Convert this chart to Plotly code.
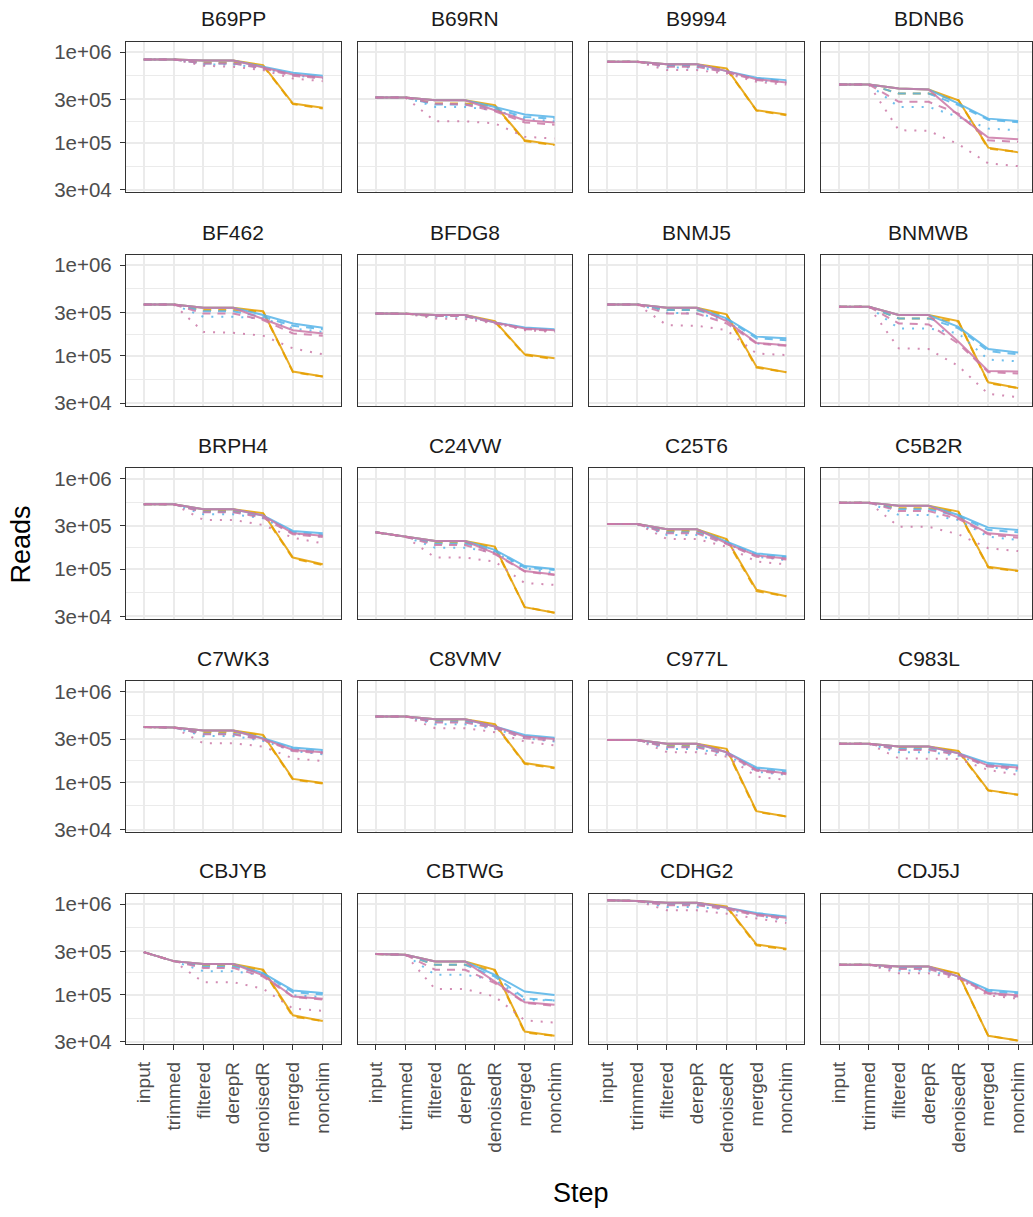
import plotly.graph_objects as go

# ---------------- data (reads, in thousands) ----------------
steps = ["input", "trimmed", "filtered", "derepR", "denoisedR", "merged", "nonchim"]
samples = ["B69PP", "B69RN", "B9994", "BDNB6",
           "BF462", "BFDG8", "BNMJ5", "BNMWB",
           "BRPH4", "C24VW", "C25T6", "C5B2R",
           "C7WK3", "C8VMV", "C977L", "C983L",
           "CBJYB", "CBTWG", "CDHG2", "CDJ5J"]

orange_solid = {
    "B69PP": [830, 830, 809, 809, 718, 270, 242],
    "B69RN": [315, 315, 294, 294, 259, 106, 95],
    "B9994": [782, 782, 736, 736, 659, 228, 204],
    "BDNB6": [438, 438, 396, 386, 294, 88, 78],
    "BF462": [370, 370, 340, 340, 311, 67, 59],
    "BFDG8": [294, 292, 282, 282, 242, 104, 94],
    "BNMJ5": [370, 370, 340, 340, 287, 76, 66],
    "BNMWB": [349, 349, 282, 282, 242, 51, 44],
    "BRPH4": [520, 520, 458, 458, 414, 134, 113],
    "C24VW": [255, 228, 204, 204, 177, 38, 33],
    "C25T6": [315, 315, 275, 275, 215, 59, 50],
    "C5B2R": [542, 542, 502, 502, 431, 106, 96],
    "C7WK3": [407, 403, 374, 374, 334, 109, 98],
    "C8VMV": [533, 533, 498, 498, 438, 163, 146],
    "C977L": [294, 294, 266, 266, 234, 48, 42],
    "C983L": [266, 266, 248, 248, 222, 82, 73],
    "CBJYB": [294, 234, 218, 218, 188, 59, 51],
    "CBTWG": [280, 275, 232, 232, 188, 39, 35],
    "CDHG2": [1098, 1080, 1034, 1034, 942, 358, 320],
    "CDJ5J": [213, 213, 204, 204, 170, 35, 31],
}
orange_dashed = {
    "B69PP": [830, 830, 769, 769, 706, 266, 238],
    "B69RN": [315, 315, 270, 270, 255, 104, 94],
    "B9994": [782, 782, 718, 718, 648, 226, 201],
    "BDNB6": [438, 438, 349, 349, 294, 86, 79],
    "BF462": [370, 370, 320, 320, 307, 66, 59],
    "BFDG8": [294, 292, 275, 275, 238, 102, 92],
    "BNMJ5": [370, 370, 320, 320, 282, 74, 66],
    "BNMWB": [349, 349, 259, 259, 238, 50, 44],
    "BRPH4": [520, 520, 438, 438, 407, 131, 111],
    "C24VW": [255, 228, 196, 196, 172, 38, 33],
    "C25T6": [315, 315, 264, 264, 209, 57, 50],
    "C5B2R": [542, 542, 470, 470, 424, 104, 95],
    "C7WK3": [407, 403, 358, 358, 328, 107, 97],
    "C8VMV": [533, 533, 482, 482, 431, 160, 143],
    "C977L": [294, 294, 255, 255, 228, 47, 42],
    "C983L": [266, 266, 242, 242, 218, 81, 73],
    "CBJYB": [294, 234, 209, 209, 184, 57, 51],
    "CBTWG": [280, 275, 213, 213, 184, 38, 35],
    "CDHG2": [1098, 1080, 1009, 1009, 926, 349, 315],
    "CDJ5J": [213, 213, 201, 201, 167, 35, 31],
}
blue_solid = {
    "B69PP": [830, 830, 809, 809, 688, 591, 547],
    "B69RN": [315, 315, 294, 294, 248, 204, 192],
    "B9994": [782, 782, 736, 736, 616, 520, 490],
    "BDNB6": [438, 438, 396, 386, 270, 184, 173],
    "BF462": [370, 370, 340, 340, 282, 228, 204],
    "BFDG8": [294, 292, 282, 282, 234, 206, 197],
    "BNMJ5": [370, 370, 340, 340, 259, 163, 156],
    "BNMWB": [349, 349, 282, 282, 209, 119, 109],
    "BRPH4": [520, 520, 458, 458, 390, 264, 248],
    "C24VW": [255, 228, 204, 204, 163, 108, 100],
    "C25T6": [315, 315, 275, 275, 201, 149, 139],
    "C5B2R": [542, 542, 502, 502, 396, 287, 270],
    "C7WK3": [407, 403, 374, 374, 307, 242, 228],
    "C8VMV": [533, 533, 498, 498, 414, 334, 311],
    "C977L": [294, 294, 266, 266, 215, 146, 135],
    "C983L": [266, 266, 248, 248, 209, 163, 153],
    "CBJYB": [294, 234, 218, 218, 172, 111, 104],
    "CBTWG": [280, 275, 232, 232, 165, 108, 99],
    "CDHG2": [1098, 1080, 1034, 1034, 911, 795, 730],
    "CDJ5J": [213, 213, 204, 204, 158, 113, 106],
}
blue_dashed = {
    "B69PP": [830, 830, 749, 749, 671, 566, 533],
    "B69RN": [315, 315, 264, 264, 238, 192, 184],
    "B9994": [782, 782, 706, 706, 606, 511, 477],
    "BDNB6": [438, 438, 349, 349, 259, 179, 168],
    "BF462": [370, 370, 311, 311, 270, 215, 197],
    "BFDG8": [294, 292, 275, 275, 232, 201, 192],
    "BNMJ5": [370, 370, 320, 320, 255, 156, 149],
    "BNMWB": [349, 349, 259, 259, 201, 113, 104],
    "BRPH4": [520, 520, 431, 431, 380, 255, 238],
    "C24VW": [255, 228, 192, 192, 158, 104, 98],
    "C25T6": [315, 315, 255, 255, 197, 143, 135],
    "C5B2R": [542, 542, 458, 458, 386, 270, 255],
    "C7WK3": [407, 403, 343, 343, 300, 234, 218],
    "C8VMV": [533, 533, 470, 470, 403, 320, 302],
    "C977L": [294, 294, 248, 248, 209, 141, 129],
    "C983L": [266, 266, 234, 234, 204, 156, 147],
    "CBJYB": [294, 234, 204, 204, 170, 106, 100],
    "CBTWG": [280, 275, 213, 213, 158, 91, 86],
    "CDHG2": [1098, 1080, 992, 992, 896, 782, 718],
    "CDJ5J": [213, 213, 197, 197, 156, 109, 102],
}
blue_dotted = {
    "B69PP": [830, 830, 730, 730, 659, 556, 511],
    "B69RN": [315, 315, 248, 248, 228, 184, 172],
    "B9994": [782, 782, 677, 677, 606, 490, 462],
    "BDNB6": [438, 438, 248, 248, 192, 143, 137],
    "BF462": [370, 370, 270, 270, 259, 201, 184],
    "BFDG8": [294, 292, 270, 270, 232, 201, 189],
    "BNMJ5": [370, 370, 300, 294, 248, 137, 131],
    "BNMWB": [349, 349, 201, 201, 177, 91, 87],
    "BRPH4": [520, 520, 403, 403, 364, 248, 228],
    "C24VW": [255, 228, 172, 172, 153, 102, 90],
    "C25T6": [315, 315, 238, 238, 192, 137, 126],
    "C5B2R": [542, 542, 396, 396, 349, 228, 209],
    "C7WK3": [407, 403, 325, 325, 287, 222, 204],
    "C8VMV": [533, 533, 438, 438, 390, 307, 282],
    "C977L": [294, 294, 234, 234, 201, 131, 121],
    "C983L": [266, 266, 215, 215, 197, 149, 134],
    "CBJYB": [294, 234, 181, 181, 163, 98, 94],
    "CBTWG": [280, 275, 165, 165, 146, 87, 86],
    "CDHG2": [1098, 1080, 926, 926, 873, 749, 659],
    "CDJ5J": [213, 213, 184, 184, 153, 106, 94],
}
pink_solid = {
    "B69PP": [830, 830, 809, 809, 677, 566, 524],
    "B69RN": [315, 315, 294, 294, 228, 177, 167],
    "B9994": [782, 782, 736, 736, 616, 502, 462],
    "BDNB6": [438, 438, 396, 386, 201, 114, 109],
    "BF462": [370, 370, 340, 340, 255, 192, 177],
    "BFDG8": [294, 292, 282, 282, 234, 201, 192],
    "BNMJ5": [370, 370, 340, 340, 242, 139, 131],
    "BNMWB": [349, 349, 282, 282, 143, 68, 67],
    "BRPH4": [520, 520, 458, 458, 390, 248, 234],
    "C24VW": [255, 228, 204, 204, 149, 95, 87],
    "C25T6": [315, 315, 275, 275, 192, 141, 131],
    "C5B2R": [542, 542, 502, 502, 370, 248, 234],
    "C7WK3": [407, 403, 374, 374, 302, 228, 215],
    "C8VMV": [533, 533, 498, 498, 414, 320, 300],
    "C977L": [294, 294, 266, 266, 215, 137, 126],
    "C983L": [266, 266, 248, 248, 209, 153, 146],
    "CBJYB": [294, 234, 218, 218, 163, 95, 90],
    "CBTWG": [280, 275, 232, 232, 139, 82, 77],
    "CDHG2": [1098, 1080, 1034, 1034, 911, 769, 706],
    "CDJ5J": [213, 213, 204, 204, 158, 104, 98],
}
pink_dashed = {
    "B69PP": [830, 830, 749, 749, 659, 547, 511],
    "B69RN": [315, 315, 270, 264, 222, 167, 158],
    "B9994": [782, 782, 688, 688, 596, 490, 458],
    "BDNB6": [438, 438, 282, 282, 209, 106, 102],
    "BF462": [370, 370, 294, 294, 248, 177, 167],
    "BFDG8": [294, 292, 275, 275, 230, 197, 189],
    "BNMJ5": [370, 370, 294, 294, 228, 137, 129],
    "BNMWB": [349, 349, 228, 222, 137, 66, 64],
    "BRPH4": [520, 520, 424, 424, 370, 242, 226],
    "C24VW": [255, 228, 184, 184, 146, 94, 86],
    "C25T6": [315, 315, 248, 248, 189, 137, 128],
    "C5B2R": [542, 542, 438, 438, 358, 242, 222],
    "C7WK3": [407, 403, 340, 340, 294, 222, 209],
    "C8VMV": [533, 533, 458, 458, 396, 307, 289],
    "C977L": [294, 294, 244, 244, 206, 134, 123],
    "C983L": [266, 266, 228, 228, 201, 149, 141],
    "CBJYB": [294, 234, 197, 197, 158, 94, 88],
    "CBTWG": [280, 275, 188, 188, 134, 81, 75],
    "CDHG2": [1098, 1080, 967, 967, 880, 749, 688],
    "CDJ5J": [213, 213, 192, 192, 153, 102, 95],
}
pink_dotted = {
    "B69PP": [830, 830, 706, 688, 632, 511, 477],
    "B69RN": [315, 315, 172, 172, 163, 116, 111],
    "B9994": [782, 782, 632, 632, 581, 470, 438],
    "BDNB6": [438, 438, 137, 135, 96, 59, 55],
    "BF462": [370, 370, 184, 180, 167, 121, 104],
    "BFDG8": [294, 292, 259, 255, 228, 192, 184],
    "BNMJ5": [370, 370, 218, 215, 192, 106, 102],
    "BNMWB": [349, 349, 121, 119, 77, 38, 35],
    "BRPH4": [520, 520, 349, 349, 307, 222, 192],
    "C24VW": [255, 228, 134, 134, 121, 70, 67],
    "C25T6": [315, 315, 215, 215, 177, 121, 113],
    "C5B2R": [542, 542, 294, 294, 242, 170, 158],
    "C7WK3": [407, 403, 270, 270, 248, 184, 172],
    "C8VMV": [533, 533, 396, 396, 358, 282, 255],
    "C977L": [294, 294, 215, 215, 192, 116, 106],
    "C983L": [266, 266, 184, 184, 181, 137, 121],
    "CBJYB": [294, 234, 137, 137, 116, 70, 66],
    "CBTWG": [280, 275, 115, 115, 95, 52, 49],
    "CDHG2": [1098, 1080, 851, 851, 782, 688, 616],
    "CDJ5J": [213, 213, 172, 172, 149, 98, 90],
}

y_tick_vals = [3e4, 1e5, 3e5, 1e6]
y_tick_text = ["3e+04", "1e+05", "3e+05", "1e+06"]

# ---------------- styling ----------------
ORANGE, BLUE, PINK = "#E69F00", "#56B4E9", "#CC79A7"
DASHED, DOTTED = "8px,7px", "2px,8px"
series = [
    (orange_solid, ORANGE, "solid"),
    (orange_dashed, ORANGE, DASHED),
    (blue_solid, BLUE, "solid"),
    (blue_dashed, BLUE, DASHED),
    (blue_dotted, BLUE, DOTTED),
    (pink_solid, PINK, "solid"),
    (pink_dashed, PINK, DASHED),
    (pink_dotted, PINK, DOTTED),
]

W, H = 1033, 1217
FONT = "Liberation Sans, Arial, Helvetica, sans-serif"
col_left = [126, 358, 590, 822]
col_right = [341, 573, 805, 1033]
row_top = [41, 256, 471, 686, 900]
PANEL_H = 152
PANEL_W = 215
px_per_cat = PANEL_W / 7.2
minor_vals = [10 ** 4.7386, 10 ** 5.2386, 10 ** 5.7386]

fig = go.Figure()
layout = dict(
    width=W, height=H,
    margin=dict(l=0, r=0, t=0, b=0),
    paper_bgcolor="white", plot_bgcolor="white",
    showlegend=False,
    font=dict(family=FONT, color="#4D4D4D"),
)
annotations = []

for i, s in enumerate(samples):
    r, c = divmod(i, 4)
    n = i + 1
    xname = "xaxis" if n == 1 else f"xaxis{n}"
    yname = "yaxis" if n == 1 else f"yaxis{n}"
    xref = "x" if n == 1 else f"x{n}"
    yref = "y" if n == 1 else f"y{n}"

    for data, color, dash in series:
        fig.add_trace(go.Scatter(
            x=steps, y=[v * 1000 for v in data[s]],
            mode="lines",
            line=dict(color=color, width=2.0, dash=dash),
            opacity=0.85,
            xaxis=xref, yaxis=yref,
            hoverinfo="skip", showlegend=False,
        ))

    x0, x1 = col_left[c], col_right[c]
    y_top = row_top[r]
    y_bot = y_top + PANEL_H
    xmax = -0.6 + (x1 - x0) / px_per_cat
    bottom = (r == 4)
    left = (c == 0)

    layout[xname] = dict(
        domain=[x0 / W, x1 / W],
        anchor=yref,
        type="category",
        categoryorder="array", categoryarray=steps,
        range=[-0.6, xmax],
        showgrid=True, gridcolor="#EBEBEB", gridwidth=1.6,
        showline=True, mirror=True, linecolor="#333333", linewidth=1.1,
        zeroline=False,
        ticks="outside" if bottom else "",
        ticklen=5, tickwidth=1.1, tickcolor="#333333",
        showticklabels=bottom,
        tickangle=-90,
        ticklabelstandoff=4,
        tickfont=dict(size=19, color="#4D4D4D", family=FONT),
    )
    layout[yname] = dict(
        domain=[1 - y_bot / H, 1 - y_top / H],
        anchor=xref,
        type="log",
        range=[4.45, 6.115],
        tickmode="array", tickvals=y_tick_vals, ticktext=y_tick_text,
        showgrid=True, gridcolor="#EBEBEB", gridwidth=1.6,
        minor=dict(tickmode="array", tickvals=minor_vals, showgrid=True,
                   gridcolor="#EBEBEB", gridwidth=0.9, ticks=""),
        showline=True, mirror=True, linecolor="#333333", linewidth=1.1,
        zeroline=False,
        ticks="outside" if left else "",
        ticklen=5, tickwidth=1.1, tickcolor="#333333",
        showticklabels=left,
        ticklabelstandoff=4,
        tickfont=dict(size=20.5, color="#4D4D4D", family=FONT),
    )
    annotations.append(dict(
        text=s, xref="paper", yref="paper",
        x=(x0 + PANEL_W / 2) / W,
        y=1 - (y_top - 23) / H,
        xanchor="center", yanchor="middle", showarrow=False,
        font=dict(size=21, color="#1A1A1A", family=FONT),
    ))

annotations.append(dict(
    text="Reads", xref="paper", yref="paper",
    x=22 / W, y=1 - 548 / H, xanchor="center", yanchor="middle",
    textangle=-90, showarrow=False,
    font=dict(size=27, color="black", family=FONT),
))
annotations.append(dict(
    text="Step", xref="paper", yref="paper",
    x=582 / W, y=1 - 1202 / H, xanchor="center", yanchor="middle",
    showarrow=False,
    font=dict(size=27, color="black", family=FONT),
))
layout["annotations"] = annotations
fig.update_layout(**layout)

fig.write_html("out.html")
